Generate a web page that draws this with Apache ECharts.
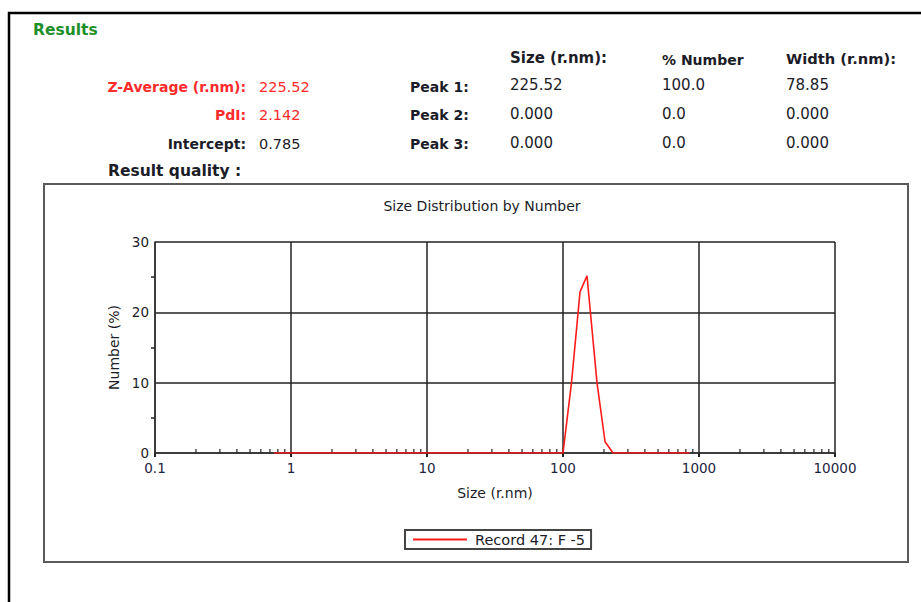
<!DOCTYPE html>
<html>
<head>
<meta charset="utf-8">
<script src="https://cdn.jsdelivr.net/npm/echarts@6/dist/echarts.min.js"></script>
<style>
html,body{margin:0;padding:0;background:#fff;}
#c{width:921px;height:602px;}
</style>
</head>
<body>
<div id="c"></div>
<script>
// ---- data ----
var sizes   = [0.75, 1, 10, 100, 115.5, 133.4, 150.1, 177.8, 203.8, 233.4, 500, 850];
var numbers = [0,    0, 0,  0,   10.0,  22.9,  25.2,  10.0,  1.6,   0,     0,   0];
var xMinorTicks = [0.2,0.3,0.4,0.5,0.6,0.7,0.8,0.9, 2,3,4,5,6,7,8,9, 20,30,40,50,60,70,80,90,
                   200,300,400,500,600,700,800,900, 2000,3000,4000,5000,6000,7000,8000,9000];
var seriesName = 'Record 47: F -5';
var summaryLabels = ['Z-Average (r.nm):', 'PdI:', 'Intercept:'];
var summaryValues = ['225.52', '2.142', '0.785'];
var peakLabels = ['Peak 1:', 'Peak 2:', 'Peak 3:'];
var peakHeaders = ['Size (r.nm):', '% Number', 'Width (r.nm):'];
var peakSize = ['225.52', '0.000', '0.000'];
var peakNumber = ['100.0', '0.0', '0.0'];
var peakWidth = ['78.85', '0.000', '0.000'];

var FONT = 'DejaVu Sans';
var RED = '#ff2b2b', DARK = '#1c1c28';

var chart = echarts.init(document.getElementById('c'), null, {renderer: 'svg'});

var lineData = sizes.map(function (s, i) { return [s, numbers[i]]; });
var tickData = xMinorTicks.map(function (s) { return [s, 0]; });

var graphics = [
  {type: 'rect', shape: {x: 9, y: 13, width: 940, height: 620}, style: {fill: 'none', stroke: '#000', lineWidth: 2.5}, silent: true},
  {type: 'rect', shape: {x: 44, y: 184, width: 864, height: 378}, style: {fill: 'none', stroke: '#5a5a5a', lineWidth: 2}, silent: true},
  {type: 'text', style: {x: 33, y: 30, text: 'Results', fill: '#1f8f2a', font: 'bold 15.5px "' + FONT + '"', textVerticalAlign: 'middle'}},
  {type: 'text', style: {x: 108, y: 171, text: 'Result quality :', fill: DARK, font: 'bold 15.5px "' + FONT + '"', textVerticalAlign: 'middle'}}
];
var rowY = [87, 115, 144];
summaryLabels.forEach(function (t, i) {
  var col = i < 2 ? RED : DARK;
  graphics.push({type: 'text', style: {x: 246, y: rowY[i], text: t, fill: col, font: 'bold 14px "' + FONT + '"', textAlign: 'right', textVerticalAlign: 'middle'}});
  graphics.push({type: 'text', style: {x: 259, y: rowY[i], text: summaryValues[i], fill: col, font: '14.5px "' + FONT + '"', textVerticalAlign: 'middle'}});
});
peakLabels.forEach(function (t, i) {
  graphics.push({type: 'text', style: {x: 410, y: rowY[i], text: t, fill: DARK, font: 'bold 14px "' + FONT + '"', textVerticalAlign: 'middle'}});
});
var colX = [510, 662, 786];
var hdrY = [58, 60, 58];
var hdrSize = [15, 14, 14.7];
peakHeaders.forEach(function (t, i) {
  graphics.push({type: 'text', style: {x: colX[i], y: hdrY[i], text: t, fill: DARK, font: 'bold ' + hdrSize[i] + 'px "' + FONT + '"', textVerticalAlign: 'middle'}});
});
var valY = [85, 114, 143];
[peakSize, peakNumber, peakWidth].forEach(function (arr, c) {
  arr.forEach(function (v, r) {
    graphics.push({type: 'text', style: {x: colX[c], y: valY[r], text: v, fill: DARK, font: '15px "' + FONT + '"', textVerticalAlign: 'middle'}});
  });
});

chart.setOption({
  animation: false,
  backgroundColor: '#fff',
  textStyle: {fontFamily: FONT},
  title: {
    text: 'Size Distribution by Number',
    left: 477, top: 194, textAlign: 'center',
    textStyle: {fontSize: 14, fontWeight: 'normal', color: DARK, fontFamily: FONT}
  },
  legend: {
    left: 405, top: 530,
    icon: 'rect',
    itemWidth: 54, itemHeight: 2, itemGap: 8,
    padding: [2, 6, 2, 8],
    borderColor: '#444', borderWidth: 2,
    textStyle: {fontSize: 14.5, color: DARK, fontFamily: FONT, padding: [0, 0, 0, 3]},
    data: [seriesName]
  },
  grid: {left: 155, right: 86, top: 242, bottom: 149, containLabel: false},
  xAxis: {
    type: 'log', logBase: 10, min: 0.1, max: 10000,
    name: 'Size (r.nm)', nameLocation: 'middle', nameGap: 33,
    nameTextStyle: {fontSize: 14, color: DARK, fontFamily: FONT},
    axisLine: {show: true, lineStyle: {color: '#333', width: 1.5}},
    axisTick: {show: true, length: 4, lineStyle: {color: '#222', width: 2}},
    axisLabel: {fontSize: 13.5, color: '#1c2440', margin: 8, fontFamily: FONT,
      formatter: function (v) { return String(v); }},
    splitLine: {show: true, lineStyle: {color: '#222', width: 1.5}}
  },
  yAxis: {
    type: 'value', min: 0, max: 30, interval: 10,
    name: 'Number (%)', nameLocation: 'middle', nameGap: 31, nameRotate: 90,
    nameTextStyle: {fontSize: 14, color: DARK, fontFamily: FONT},
    axisLine: {show: true, lineStyle: {color: '#333', width: 1.5}},
    axisTick: {show: false},
    minorTick: {show: true, splitNumber: 2, length: 4, lineStyle: {color: '#222', width: 1.5}},
    axisLabel: {fontSize: 13.5, color: DARK, margin: 6, fontFamily: FONT},
    splitLine: {show: true, lineStyle: {color: '#222', width: 1.5}}
  },
  series: [
    {
      name: 'minorTicks', type: 'scatter', data: tickData, silent: true,
      symbol: 'rect', symbolSize: [1.5, 4], symbolOffset: [0, -2],
      itemStyle: {color: '#222'}, z: 3
    },
    {
      name: seriesName, type: 'line', data: lineData, showSymbol: false, symbol: 'none',
      lineStyle: {color: '#ff1a1a', width: 1.6}, itemStyle: {color: '#ff1a1a'}, z: 5
    }
  ],
  graphic: graphics
});
</script>
</body>
</html>
